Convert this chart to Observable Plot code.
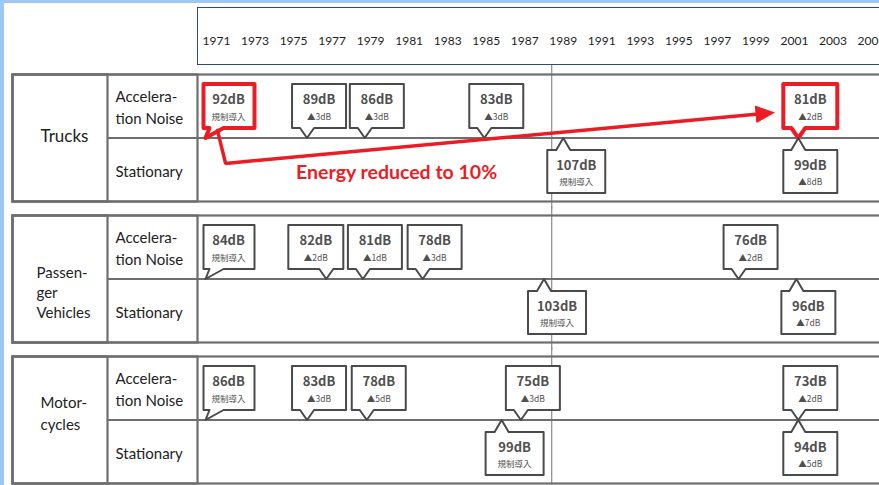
<!DOCTYPE html>
<html><head><meta charset="utf-8">
<script src="https://cdn.jsdelivr.net/npm/d3@7"></script>
<script src="https://cdn.jsdelivr.net/npm/@observablehq/plot@0.6"></script>
<style>
html,body{margin:0;padding:0;overflow:hidden;background:#9cc8f2;width:879px;height:485px;}
#page{position:absolute;left:4px;top:3px;width:875px;height:482px;background:#fff;}
#header{position:absolute;left:197px;top:7px;width:700px;height:58px;border:1.5px solid #2d4b7e;box-sizing:border-box;}
#chart{position:absolute;left:0;top:0;}
</style></head><body>
<div id="page"></div><div id="header"></div><div id="chart"></div>
<script>
// ---- data ----
const years = d3.range(1971, 2006, 2);
const groups = ["Trucks", "Passenger Vehicles", "Motorcycles"];
const groupLabels = ["Trucks", "Passen-\nger\nVehicles", "Motor-\ncycles"];
const rows = ["accel", "stat"];
const rowLabels = ["Accelera-\ntion Noise", "Stationary"];

const truckAccelYear = [1971, 1975.7, 1978.7, 1984.9, 2001.2];
const truckAccelDb   = [92, 89, 86, 83, 81];
const truckStatYear  = [1989.0, 2001.2];
const truckStatDb    = [107, 99];
const carAccelYear   = [1971, 1976.7, 1978.6, 1981.7, 1998.1];
const carAccelDb     = [84, 82, 81, 78, 76];
const carStatYear    = [1988.0, 2001.1];
const carStatDb      = [103, 96];
const bikeAccelYear  = [1971, 1975.7, 1978.8, 1986.8, 2001.2];
const bikeAccelDb    = [86, 83, 78, 75, 73];
const bikeStatYear   = [1985.8, 2001.2];
const bikeStatDb     = [99, 94];

const introNote = "規制導入";
const highlighted = [92, 81];           // truck acceleration noise, compared by the arrow
const carTailRight = [82];              // passenger callout whose pointer sits at the box's right side
const gridYear = 1988.4;
const arrowNote = "Energy reduced to 10%";
const arrowPts = [{year: 1971.05, y: 0.88}, {year: 1971.47, y: 1.40}, {year: 1999.94, y: 0.60}];
const notePos = {year: 1980.35, y: 1.54};

// ---- tables ----
const series = [
  ["Trucks", "accel", truckAccelYear, truckAccelDb],
  ["Trucks", "stat", truckStatYear, truckStatDb],
  ["Passenger Vehicles", "accel", carAccelYear, carAccelDb],
  ["Passenger Vehicles", "stat", carStatYear, carStatDb],
  ["Motorcycles", "accel", bikeAccelYear, bikeAccelDb],
  ["Motorcycles", "stat", bikeStatYear, bikeStatDb]
];
const callouts = series.flatMap(([group, row, ys, dbs]) => ys.map((year, i) => {
  const right = group === "Passenger Vehicles" && row === "accel" && carTailRight.includes(dbs[i]);
  return {
    group, row, year, db: dbs[i],
    note: i === 0 ? introNote : `▲${dbs[i - 1] - dbs[i]}dB`,
    kind: row + (i === 0 ? "First" : right ? "Right" : "Step"),
    hi: group === "Trucks" && row === "accel" && highlighted.includes(dbs[i])
  };
}));
const groupTable = groups.map((g, i) => ({group: g, label: groupLabels[i]}));
const rowTable = groups.flatMap(g => rows.map((r, i) => ({group: g, row: r, label: rowLabels[i]})));

// ---- styles ----
const LINE = "#6e6e6e", BOX = "#4a4a4a", TXT = "#505050", RED = "#ec1c24";
const FONT = "Lato, 'Noto Sans', sans-serif";
const CJK = "'Noto Sans CJK JP', 'Noto Sans', sans-serif";

function bubble(x0, x1, yFar, yBase, ax) {
  return {draw(c) {
    if (yBase < 0) {
      c.moveTo(x0, yFar); c.lineTo(x1, yFar); c.lineTo(x1, yBase);
      c.lineTo(7, yBase); c.lineTo(ax, 0); c.lineTo(-7, yBase); c.lineTo(x0, yBase); c.closePath();
    } else {
      c.moveTo(x0, yBase); c.lineTo(-7, yBase); c.lineTo(ax, 0); c.lineTo(7, yBase);
      c.lineTo(x1, yBase); c.lineTo(x1, yFar); c.lineTo(x0, yFar); c.closePath();
    }
  }};
}
const kinds = {
  accelFirst: {shape: bubble(-13, 38, -54, -10, -11), dx: 12},
  accelStep:  {shape: bubble(-15, 39, -54, -10, 0), dx: 12},
  accelRight: {shape: bubble(-38, 17, -54, -10, 0), dx: -10.5},
  statFirst:  {shape: bubble(-16, 42, 55, 12, 0), dx: 13},
  statStep:   {shape: bubble(-15, 39, 55, 12, 0), dx: 12}
};
const headShape = {draw(c) { c.moveTo(0, 0); c.lineTo(-8, 18); c.lineTo(8, 18); c.closePath(); }};

function calloutMarks(kind) {
  const sel = callouts.filter(d => d.kind === kind);
  if (!sel.length) return [];
  const {shape, dx} = kinds[kind];
  const acc = kind.startsWith("accel");
  const common = {x: "year", y: () => 1, fy: "group"};
  return [
    Plot.vector(sel.filter(d => !d.hi), {...common, anchor: "start", rotate: 0, shape, fill: "white", stroke: BOX, strokeWidth: 2}),
    Plot.vector(sel.filter(d => d.hi), {...common, anchor: "start", rotate: 0, shape, fill: "white", stroke: RED, strokeWidth: 4}),
    Plot.text(sel, {...common, text: d => d.db + "dB", dx, dy: acc ? -38 : 28, fontSize: 13, fontWeight: 600, fill: TXT, fontFamily: CJK}),
    Plot.text(sel, {...common, text: "note", dx, dy: acc ? -21 : 44, fontSize: 8.5, fill: TXT, fontFamily: CJK})
  ];
}

function makePlot(angle, lineEnd) {
  const linePts = lineEnd ? [...arrowPts.slice(0, 2), lineEnd] : arrowPts;
  const tip = arrowPts[arrowPts.length - 1];
  return Plot.plot({
    width: 879, height: 485,
    marginLeft: 12, marginRight: -4, marginTop: 74, marginBottom: 2,
    style: {background: "transparent", fontFamily: FONT, overflow: "hidden"},
    x: {domain: [1971, 2005], range: [216, 871], axis: null},
    y: {domain: [0, 2], reverse: true, axis: null},
    fy: {domain: groups, paddingInner: 0.0993, paddingOuter: 0, axis: null},
    marks: [
      Plot.ruleX([gridYear], {stroke: "#8a8a8a", strokeWidth: 1.2, insetTop: -9, insetBottom: -8}),
      Plot.ruleY([1], {stroke: LINE, strokeWidth: 2.2, insetLeft: 95}),
      Plot.frame({stroke: LINE, strokeWidth: 2.2}),
      Plot.frame({stroke: LINE, strokeWidth: 2.2, insetRight: 883 - 107}),
      Plot.frame({stroke: LINE, strokeWidth: 2.2, insetRight: 883 - 197}),
      Plot.axisX(years, {anchor: "top", tickSize: 0, tickPadding: 30, fontSize: 12, tickFormat: d => String(d), fill: "#1e1e1e", label: null, fontFamily: FONT}),
      Plot.text(groupTable.filter(d => d.group === "Trucks"), {fy: "group", text: "label", frameAnchor: "left", dx: 28, dy: -1.5, textAnchor: "start", fontSize: 17, fill: "#222"}),
      Plot.text(groupTable.filter(d => d.group === "Passenger Vehicles"), {fy: "group", text: "label", frameAnchor: "left", dx: 24, dy: 13, textAnchor: "start", fontSize: 15, lineHeight: 1.33, fill: "#222"}),
      Plot.text(groupTable.filter(d => d.group === "Motorcycles"), {fy: "group", text: "label", frameAnchor: "left", dx: 28, dy: -8, textAnchor: "start", fontSize: 15, lineHeight: 1.45, fill: "#222"}),
      Plot.text(rowTable, {fy: "group", y: d => d.row === "accel" ? 0.5 : 1.5, text: "label", frameAnchor: "left", dx: 103, textAnchor: "start", fontSize: 15, lineHeight: 1.42, fill: "#222"}),
      ...Object.keys(kinds).flatMap(calloutMarks),
      Plot.line(linePts, {x: "year", y: "y", fy: () => "Trucks", stroke: RED, strokeWidth: 3.5, strokeLinejoin: "miter"}),
      Plot.vector([tip], {x: "year", y: "y", fy: () => "Trucks", anchor: "start", rotate: angle, shape: headShape, fill: RED, stroke: RED, strokeWidth: 1}),
      Plot.text([arrowNote], {x: () => notePos.year, y: () => notePos.y, fy: () => "Trucks", text: d => d, fill: RED, fontSize: 19.5, fontWeight: "bold", fontFamily: FONT})
    ]
  });
}

let angle = 84.7, lineEnd = null;
try {
  const p0 = makePlot(angle, null);
  const sx = p0.scale("x"), sy = p0.scale("y");
  const b = arrowPts[1], t = arrowPts[2];
  const dxp = sx.apply(t.year) - sx.apply(b.year), dyp = sy.apply(t.y) - sy.apply(b.y);
  angle = Math.atan2(dxp, -dyp) * 180 / Math.PI;
  const len = Math.hypot(dxp, dyp), back = 10;
  lineEnd = {year: sx.invert(sx.apply(t.year) - dxp / len * back), y: sy.invert(sy.apply(t.y) - dyp / len * back)};
} catch (e) { console.error(e); }
document.getElementById("chart").append(makePlot(angle, lineEnd));
</script>
</body></html>
